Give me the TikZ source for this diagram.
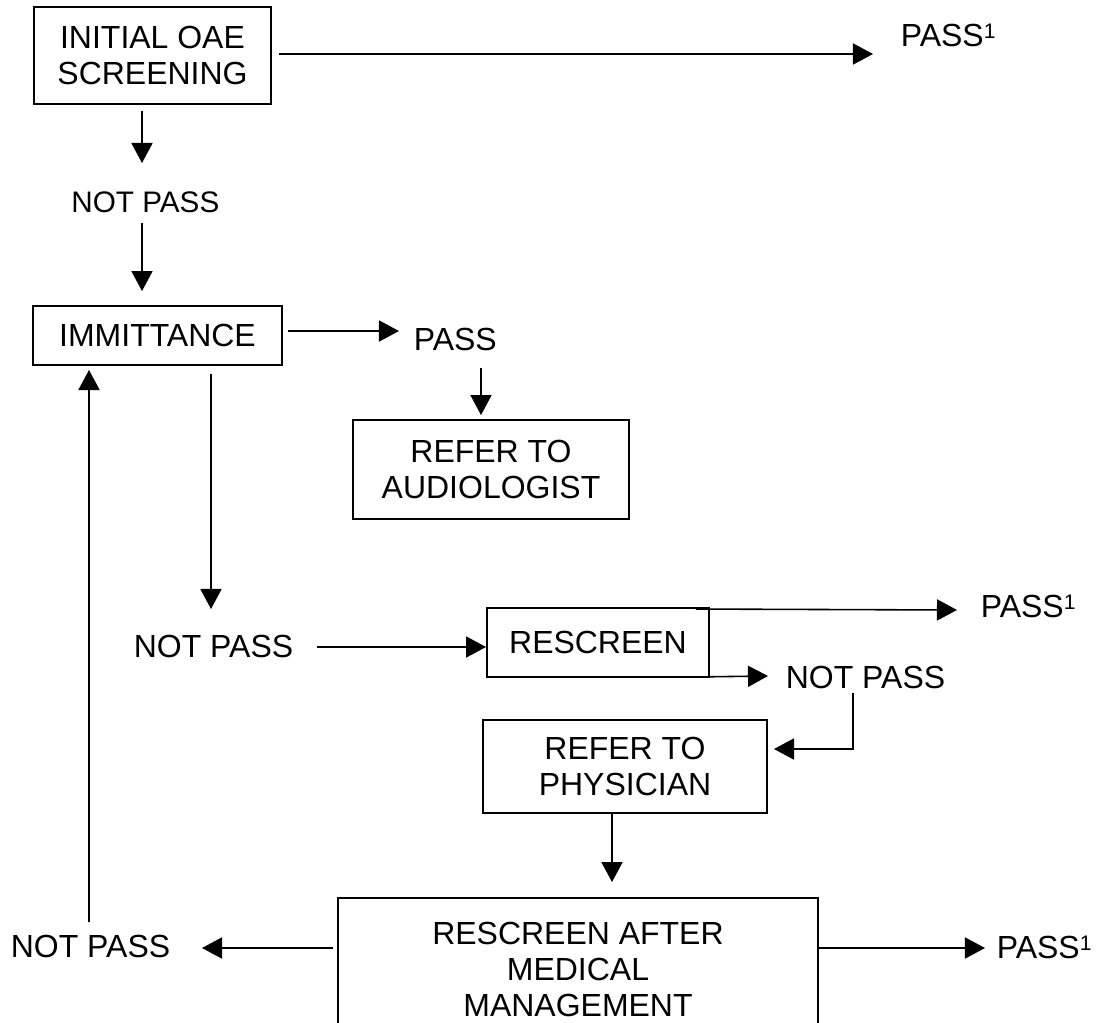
\documentclass[tikz,border=0pt]{standalone}
\usepackage{fontspec}
\setmainfont{Liberation Sans}
\usetikzlibrary{arrows.meta, calc}

\newcommand{\pu}{0.02cm}
\newcommand{\boxfont}{\fontsize{18.2pt}{20.5pt}\selectfont}
\newcommand{\supone}{\raisebox{4.2pt}{\fontsize{12pt}{12pt}\selectfont 1}}

\begin{document}
\begin{tikzpicture}[
    x=\pu, y=-\pu,
    box/.style={rectangle, draw, line width=1.1pt, align=center, inner sep=0pt, font=\boxfont},
    lbl/.style={anchor=base west, inner sep=0pt, font=\boxfont},
    arrow/.style={-{Triangle[length=11.4pt, width=12pt]}, line width=0.9pt}
]
    \useasboundingbox (0,0) rectangle (1099,1022);

    % Boxes
    \node[box, minimum width=237*\pu, minimum height=97*\pu] (init) at (152.5,55.5) {INITIAL OAE\\SCREENING};
    \node[box, minimum width=249*\pu, minimum height=59*\pu] (immit) at (157.5,335.5) {IMMITTANCE};
    \node[box, minimum width=276*\pu, minimum height=99*\pu] (audio) at (491,469.5) {REFER TO\\AUDIOLOGIST};
    \node[box, minimum width=222*\pu, minimum height=69*\pu] (rescr) at (598,642.5) {RESCREEN};
    \node[box, minimum width=284*\pu, minimum height=93*\pu] (phys) at (625,766.5) {REFER TO\\PHYSICIAN};
    \node[box, minimum width=480*\pu, minimum height=142*\pu] (medic) at (578,969) {RESCREEN AFTER\\MEDICAL\\MANAGEMENT};

    % Outcomes
    \node[lbl] (passtop) at (900.5,46) {PASS\supone};
    \node[lbl, font=\fontsize{16.9pt}{19pt}\selectfont] (npinit) at (71,212) {NOT PASS};
    \node[lbl] (passim) at (413.5,350) {PASS};
    \node[lbl] (npim) at (133.5,657) {NOT PASS};
    \node[lbl] (passre) at (980.5,617) {PASS\supone};
    \node[lbl] (npre) at (785.5,688) {NOT PASS};
    \node[lbl] (npmed) at (10.5,957) {NOT PASS};
    \node[lbl] (passmed) at (996.5,958) {PASS\supone};

    % Arrows
    \draw[arrow] ($(init.east)+(7,-1.5)$) -- ($(passtop.base west)+(-27.5,8)$);
    \draw[arrow] ($(init.south)+(-10.5,6)$) -- ($(npinit.base west)+(71,-49)$);
    \draw[arrow] ($(npinit.base west)+(71,11)$) -- ($(immit.north)+(-15.5,-14)$);
    \draw[arrow] ($(immit.east)+(5,-4.5)$) -- ($(passim.base west)+(-14.5,-19)$);
    \draw[arrow] ($(passim.base west)+(67.5,18)$) -- ($(audio.north)+(-10,-4)$);
    \draw[arrow] ($(immit.south)+(53.5,8)$) -- ($(npim.base west)+(77.5,-48)$);
    \draw[arrow] ($(npim.base west)+(183.5,-10)$) -- ($(rescr.west)+(0,4.5)$);
    \draw[arrow] ($(rescr.north east)+(-14,2)$) -- ($(passre.base west)+(-23.5,-7)$);
    \draw[arrow] ($(rescr.south east)+(-16,-1)$) -- ($(npre.base west)+(-17.5,-12)$);
    \draw[arrow] ($(npre.base west)+(67.5,5)$) |- ($(phys.east)+(6,-17.5)$);
    \draw[arrow] ($(phys.south)+(-13,0)$) -- ($(medic.north)+(34,-15)$);
    \draw[arrow] ($(medic.west)+(-4,-21)$) -- ($(npmed.base west)+(191.5,-9)$);
    \draw[arrow] ($(medic.east)+(0,-21)$) -- ($(passmed.base west)+(-11.5,-10)$);

    % Loop back
    \draw[arrow] ($(npmed.base west)+(78.5,-35)$) -- ($(immit.south)+(-68.5,4)$);
\end{tikzpicture}
\end{document}
